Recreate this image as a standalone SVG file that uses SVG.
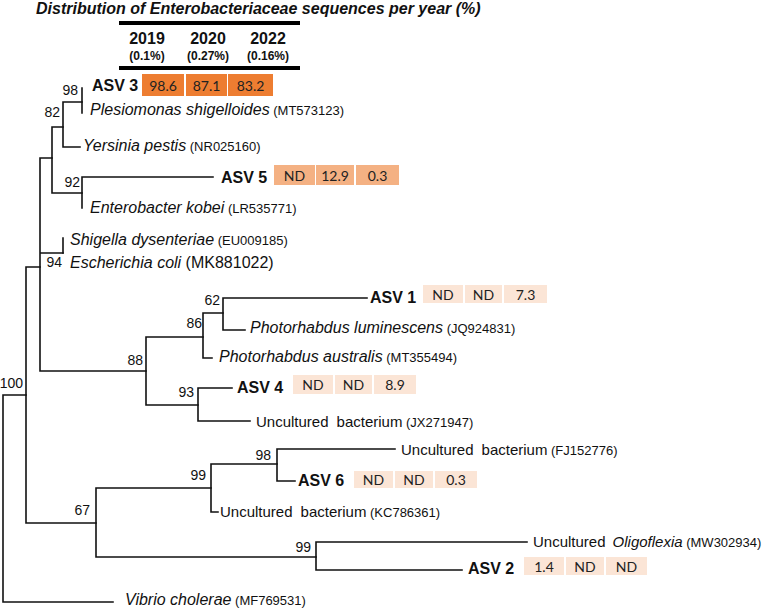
<svg xmlns="http://www.w3.org/2000/svg" width="767" height="611" viewBox="0 0 767 611">
<style>
text{font-family:"Liberation Sans",Arial,sans-serif;fill:#111}
.title{font-size:16px;font-weight:bold;font-style:italic}
.yr{font-size:16px;font-weight:bold;text-anchor:middle}
.pc{font-size:12px;font-weight:bold;text-anchor:middle}
.sp{font-size:16px}
.un{font-size:15px}
.it{font-style:italic}
.acc{font-size:13px;font-style:normal}
.asv{font-size:16px;font-weight:bold}
.bs{font-size:14px;text-anchor:end}
.cv{font-family:Lato,"Open Sans",sans-serif;font-size:14px;text-anchor:middle;fill:#222}
.c1{fill:#ED7D31}
.c2{fill:#F4B183}
.c3{fill:#FBE5D6}
.br{fill:none;stroke:#111;stroke-width:1.6;stroke-linecap:square}
.hl{stroke:#000;stroke-width:4}
</style>
<g id="header">
<text class="title" x="36" y="14">Distribution of Enterobacteriaceae sequences per year (%)</text>
<line class="hl" x1="119" y1="23" x2="300" y2="23"/>
<text class="yr" x="147" y="44">2019</text>
<text class="yr" x="208" y="44">2020</text>
<text class="yr" x="268" y="44">2022</text>
<text class="pc" x="147" y="60">(0.1%)</text>
<text class="pc" x="208" y="60">(0.27%)</text>
<text class="pc" x="268" y="60">(0.16%)</text>
<line class="hl" x1="119" y1="68" x2="300" y2="68"/>
</g>
<g id="connectors">
<path class="br" d="M26,395 H3 V602 H113"/>
<path class="br" d="M40,267 H26 V523 H96"/>
<path class="br" d="M52,158 H40 V371 H146 M40,253 H63"/>
<path class="br" d="M63,127 H52 V193 H82"/>
<path class="br" d="M82,102 H63 V147 H80"/>
<path class="br" d="M82,88 V113"/>
<path class="br" d="M213,177 H82 V208"/>
<path class="br" d="M63,238 V253"/>
<path class="br" d="M203,337 H146 V405 H198"/>
<path class="br" d="M223,313 H203 V358 H212"/>
<path class="br" d="M367,298 H223 V330 H245"/>
<path class="br" d="M232,388 H198 V421 H250"/>
<path class="br" d="M211,488 H96 V557 H316"/>
<path class="br" d="M277,464 H211 V512 H218"/>
<path class="br" d="M395,449 H277 V481 H295"/>
<path class="br" d="M527,542 H316 V570 H462"/>
</g>
<g id="bootstrap">
<text class="bs" x="78" y="95">98</text>
<text class="bs" x="60" y="117">82</text>
<text class="bs" x="80" y="187">92</text>
<text class="bs" x="62" y="267">94</text>
<text class="bs" x="220" y="305">62</text>
<text class="bs" x="202" y="328">86</text>
<text class="bs" x="143" y="365">88</text>
<text class="bs" x="194" y="397">93</text>
<text class="bs" x="23" y="388">100</text>
<text class="bs" x="90" y="515">67</text>
<text class="bs" x="206" y="480">99</text>
<text class="bs" x="271" y="460">98</text>
<text class="bs" x="311" y="552">99</text>
</g>
<g id="asv3">
<text class="asv" x="92" y="91">ASV 3</text>
<rect class="c1" x="142" y="74" width="42" height="22"/>
<rect class="c1" x="186" y="74" width="41" height="22"/>
<rect class="c1" x="228" y="74" width="45" height="22"/>
<text class="cv" x="163" y="91">98.6</text>
<text class="cv" x="206.5" y="91">87.1</text>
<text class="cv" x="250.5" y="91">83.2</text>
</g>
<g id="plesiomonas"><text class="sp" x="90" y="115"><tspan class="it">Plesiomonas shigelloides</tspan><tspan class="acc"> (MT573123)</tspan></text></g>
<g id="yersinia"><text class="sp" x="83" y="151"><tspan class="it">Yersinia pestis</tspan><tspan class="acc"> (NR025160)</tspan></text></g>
<g id="asv5">
<text class="asv" x="221" y="183">ASV 5</text>
<rect class="c2" x="274" y="165" width="41" height="20"/>
<rect class="c2" x="316" y="165" width="38" height="20"/>
<rect class="c2" x="356" y="165" width="43" height="20"/>
<text class="cv" x="294.5" y="181">ND</text>
<text class="cv" x="335" y="181">12.9</text>
<text class="cv" x="377.5" y="181">0.3</text>
</g>
<g id="enterobacter"><text class="sp" x="90" y="213"><tspan class="it">Enterobacter kobei</tspan><tspan class="acc"> (LR535771)</tspan></text></g>
<g id="shigella"><text class="sp" x="70" y="245"><tspan class="it">Shigella dysenteriae</tspan><tspan class="acc"> (EU009185)</tspan></text></g>
<g id="ecoli"><text class="sp" x="70" y="268"><tspan class="it">Escherichia coli</tspan> (MK881022)</text></g>
<g id="asv1">
<text class="asv" x="370" y="303">ASV 1</text>
<rect class="c3" x="423" y="285" width="40" height="18"/>
<rect class="c3" x="465" y="285" width="37" height="18"/>
<rect class="c3" x="504" y="285" width="43" height="18"/>
<text class="cv" x="443" y="300">ND</text>
<text class="cv" x="483.5" y="300">ND</text>
<text class="cv" x="525.5" y="300">7.3</text>
</g>
<g id="p-luminescens"><text class="sp" x="250" y="333"><tspan class="it">Photorhabdus luminescens</tspan><tspan class="acc"> (JQ924831)</tspan></text></g>
<g id="p-australis"><text class="sp" x="219" y="362"><tspan class="it">Photorhabdus australis</tspan><tspan class="acc"> (MT355494)</tspan></text></g>
<g id="asv4">
<text class="asv" x="237" y="393">ASV 4</text>
<rect class="c3" x="293" y="375" width="40" height="19"/>
<rect class="c3" x="335" y="375" width="37" height="19"/>
<rect class="c3" x="374" y="375" width="42" height="19"/>
<text class="cv" x="313" y="390">ND</text>
<text class="cv" x="353.5" y="390">ND</text>
<text class="cv" x="395" y="390">8.9</text>
</g>
<g id="unc-jx"><text class="un" x="256" y="427">Uncultured<tspan dx="8">bacterium</tspan><tspan class="acc"> (JX271947)</tspan></text></g>
<g id="unc-fj"><text class="un" x="401" y="455">Uncultured<tspan dx="8">bacterium</tspan><tspan class="acc"> (FJ152776)</tspan></text></g>
<g id="asv6">
<text class="asv" x="298" y="486">ASV 6</text>
<rect class="c3" x="354" y="471" width="39" height="17"/>
<rect class="c3" x="395" y="471" width="38" height="17"/>
<rect class="c3" x="435" y="471" width="42" height="17"/>
<text class="cv" x="373.5" y="485">ND</text>
<text class="cv" x="414" y="485">ND</text>
<text class="cv" x="456" y="485">0.3</text>
</g>
<g id="unc-kc"><text class="un" x="220" y="517">Uncultured<tspan dx="8">bacterium</tspan><tspan class="acc"> (KC786361)</tspan></text></g>
<g id="oligoflexia"><text class="un" x="533" y="547">Uncultured<tspan dx="7" class="it">Oligoflexia</tspan><tspan class="acc" font-size="12.5"> (MW302934)</tspan></text></g>
<g id="asv2">
<text class="asv" x="468" y="574">ASV 2</text>
<rect class="c3" x="524" y="557" width="40" height="18"/>
<rect class="c3" x="566" y="557" width="38" height="18"/>
<rect class="c3" x="606" y="557" width="41" height="18"/>
<text class="cv" x="544" y="572">1.4</text>
<text class="cv" x="585" y="572">ND</text>
<text class="cv" x="626.5" y="572">ND</text>
</g>
<g id="vibrio"><text class="sp" x="125" y="605"><tspan class="it">Vibrio cholerae</tspan><tspan class="acc"> (MF769531)</tspan></text></g>
</svg>
